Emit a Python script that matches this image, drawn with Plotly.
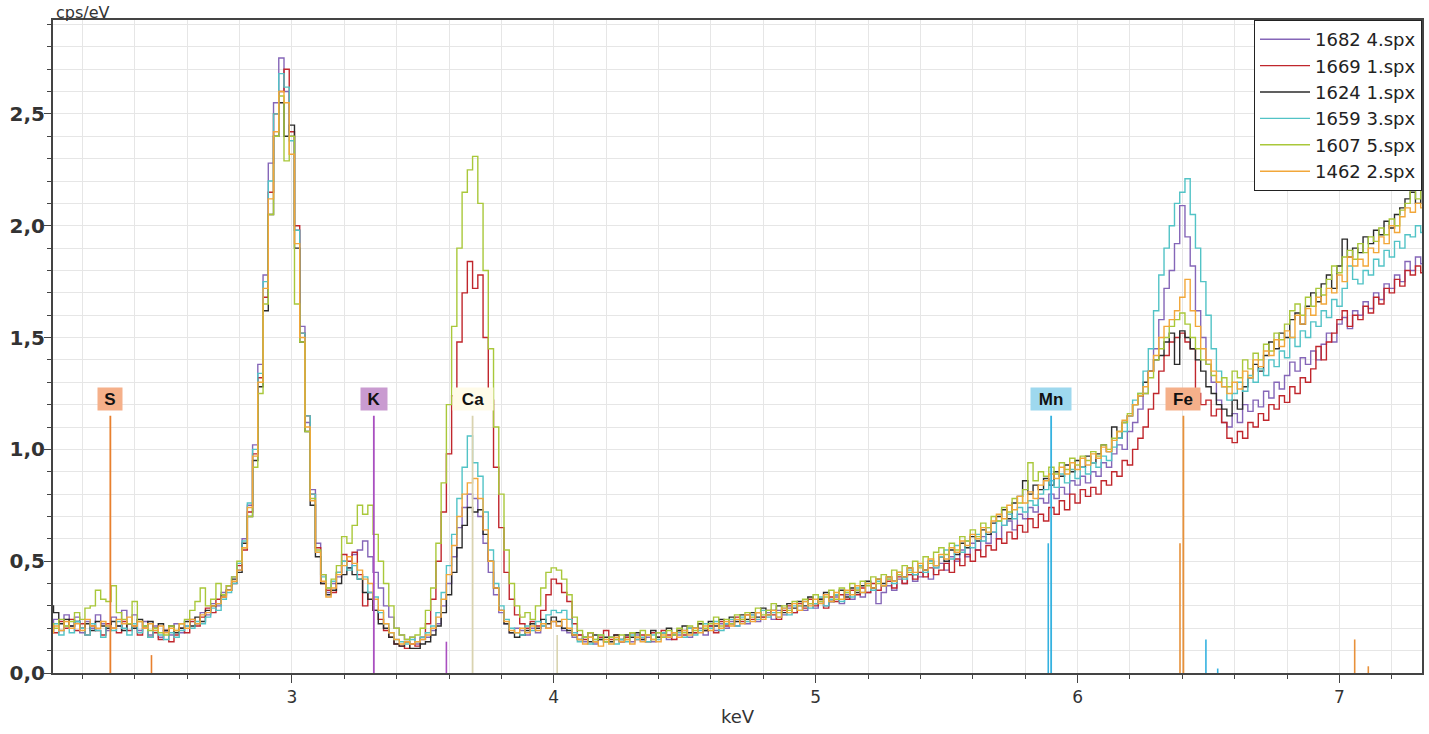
import plotly.graph_objects as go

# Energy channel grid (keV): first channel and channel width
E_START = 2.08
E_STEP = 0.02

series_names = ["1682 4.spx", "1669 1.spx", "1624 1.spx", "1659 3.spx", "1607 5.spx", "1462 2.spx"]
series_colors = ["#8566B8", "#C0262C", "#2B2B2B", "#52C3C6", "#A9C83A", "#F2A73A"]

s1682 = [
    0.20,0.24,0.19,0.26,0.21,0.25,0.18,0.23,0.20,0.26,
    0.22,0.19,0.25,0.21,0.28,0.22,0.26,0.19,0.23,0.17,
    0.21,0.16,0.19,0.17,0.22,0.18,0.21,0.24,0.22,0.27,
    0.26,0.31,0.30,0.36,0.37,0.43,0.46,0.60,0.75,1.02,
    1.38,1.78,2.28,2.55,2.75,2.60,2.40,1.98,1.55,1.12,
    0.82,0.58,0.44,0.36,0.40,0.43,0.50,0.47,0.53,0.55,
    0.59,0.52,0.45,0.38,0.30,0.25,0.20,0.17,0.15,0.16,
    0.13,0.15,0.16,0.19,0.22,0.30,0.40,0.52,0.65,0.74,
    0.80,0.78,0.70,0.58,0.45,0.35,0.27,0.22,0.18,0.20,
    0.19,0.17,0.20,0.18,0.21,0.20,0.23,0.21,0.19,0.18,
    0.16,0.17,0.14,0.16,0.13,0.15,0.14,0.16,0.15,0.14,
    0.16,0.14,0.17,0.15,0.16,0.14,0.18,0.16,0.15,0.18,
    0.17,0.19,0.16,0.18,0.20,0.17,0.21,0.19,0.22,0.20,
    0.23,0.21,0.24,0.22,0.26,0.23,0.25,0.27,0.24,0.28,
    0.26,0.29,0.27,0.30,0.28,0.31,0.29,0.33,0.30,0.32,
    0.34,0.31,0.35,0.33,0.37,0.34,0.36,0.38,0.31,0.36,
    0.39,0.37,0.42,0.40,0.44,0.41,0.43,0.46,0.42,0.47,
    0.49,0.46,0.52,0.50,0.55,0.52,0.58,0.55,0.61,0.58,
    0.63,0.60,0.66,0.68,0.64,0.71,0.69,0.74,0.72,0.78,
    0.76,0.80,0.78,0.83,0.80,0.86,0.84,0.88,0.85,0.90,
    0.88,0.94,0.92,0.98,1.02,1.00,1.08,1.12,1.18,1.25,
    1.35,1.45,1.58,1.72,1.80,1.92,2.09,1.95,1.82,1.62,
    1.50,1.38,1.30,1.22,1.12,1.10,1.16,1.12,1.20,1.17,
    1.22,1.19,1.26,1.23,1.30,1.27,1.33,1.39,1.35,1.41,
    1.38,1.44,1.40,1.47,1.52,1.48,1.56,1.59,1.54,1.62,
    1.60,1.66,1.63,1.70,1.67,1.74,1.72,1.78,1.75,1.84,
    1.80,1.86,1.83,1.88,
]

s1669 = [
    0.21,0.18,0.23,0.20,0.24,0.19,0.22,0.17,0.21,0.19,
    0.17,0.22,0.20,0.18,0.23,0.19,0.21,0.17,0.20,0.16,
    0.18,0.15,0.19,0.14,0.17,0.20,0.18,0.23,0.21,0.25,
    0.29,0.27,0.33,0.34,0.39,0.40,0.48,0.55,0.72,0.98,
    1.32,1.68,2.15,2.50,2.60,2.70,2.42,2.00,1.52,1.15,
    0.80,0.56,0.40,0.37,0.36,0.45,0.53,0.50,0.54,0.44,
    0.30,0.36,0.28,0.24,0.19,0.16,0.13,0.12,0.11,0.13,
    0.12,0.16,0.22,0.33,0.50,0.72,0.98,1.24,1.48,1.70,
    1.84,1.72,1.78,1.50,1.22,0.92,0.65,0.45,0.33,0.26,
    0.22,0.20,0.23,0.21,0.28,0.35,0.42,0.40,0.36,0.32,
    0.22,0.17,0.15,0.18,0.14,0.16,0.19,0.15,0.17,0.14,
    0.16,0.18,0.15,0.17,0.14,0.18,0.16,0.19,0.17,0.15,
    0.19,0.17,0.20,0.18,0.22,0.19,0.21,0.18,0.23,0.21,
    0.22,0.25,0.23,0.26,0.24,0.27,0.25,0.28,0.26,0.24,
    0.28,0.30,0.27,0.31,0.29,0.33,0.30,0.32,0.29,0.34,
    0.32,0.35,0.33,0.37,0.35,0.38,0.36,0.40,0.37,0.39,
    0.41,0.38,0.43,0.40,0.44,0.42,0.45,0.43,0.47,0.44,
    0.46,0.49,0.45,0.51,0.48,0.53,0.50,0.55,0.52,0.57,
    0.55,0.60,0.58,0.63,0.60,0.66,0.63,0.69,0.65,0.71,
    0.68,0.74,0.71,0.77,0.73,0.80,0.76,0.82,0.79,0.83,
    0.80,0.86,0.84,0.90,0.88,0.95,0.93,1.00,1.05,1.10,
    1.18,1.25,1.35,1.42,1.48,1.50,1.52,1.48,1.45,1.25,
    1.20,1.22,1.15,1.18,1.12,1.05,1.03,1.08,1.05,1.12,
    1.10,1.16,1.13,1.20,1.18,1.24,1.21,1.28,1.25,1.32,
    1.30,1.36,1.46,1.40,1.48,1.52,1.58,1.62,1.55,1.60,
    1.58,1.64,1.61,1.68,1.65,1.72,1.70,1.76,1.73,1.80,
    1.78,1.82,1.79,1.84,
]

s1624 = [
    0.30,0.27,0.22,0.24,0.21,0.23,0.20,0.22,0.19,0.23,
    0.21,0.20,0.23,0.21,0.19,0.22,0.20,0.24,0.21,0.23,
    0.20,0.22,0.19,0.21,0.18,0.20,0.23,0.21,0.25,0.23,
    0.28,0.30,0.31,0.35,0.37,0.42,0.45,0.58,0.70,0.95,
    1.28,1.62,2.05,2.40,2.55,2.40,2.45,1.90,1.48,1.08,
    0.75,0.52,0.40,0.35,0.37,0.40,0.44,0.47,0.44,0.42,
    0.36,0.33,0.28,0.22,0.20,0.16,0.13,0.12,0.14,0.11,
    0.11,0.13,0.14,0.17,0.21,0.27,0.35,0.45,0.56,0.66,
    0.74,0.72,0.73,0.62,0.50,0.38,0.28,0.22,0.18,0.16,
    0.17,0.19,0.22,0.20,0.24,0.22,0.25,0.23,0.20,0.19,
    0.17,0.15,0.16,0.14,0.17,0.15,0.16,0.14,0.17,0.15,
    0.17,0.16,0.18,0.15,0.17,0.19,0.16,0.18,0.20,0.17,
    0.19,0.21,0.18,0.20,0.22,0.19,0.23,0.21,0.24,0.22,
    0.25,0.23,0.26,0.24,0.27,0.25,0.29,0.26,0.28,0.30,
    0.27,0.31,0.29,0.32,0.30,0.34,0.31,0.33,0.36,0.32,
    0.35,0.37,0.34,0.38,0.36,0.39,0.41,0.38,0.42,0.40,
    0.43,0.41,0.45,0.43,0.47,0.44,0.48,0.46,0.50,0.48,
    0.52,0.50,0.55,0.53,0.58,0.56,0.61,0.59,0.64,0.62,
    0.67,0.70,0.73,0.69,0.76,0.79,0.86,0.80,0.84,0.82,
    0.87,0.84,0.90,0.88,0.93,0.90,0.95,0.92,0.97,0.94,
    0.98,1.02,0.99,1.10,1.05,1.12,1.15,1.20,1.24,1.30,
    1.35,1.40,1.42,1.48,1.52,1.38,1.53,1.50,1.45,1.40,
    1.35,1.28,1.25,1.20,1.18,1.15,1.22,1.18,1.28,1.32,
    1.38,1.35,1.42,1.48,1.45,1.52,1.50,1.58,1.61,1.56,
    1.64,1.70,1.66,1.74,1.78,1.72,1.82,1.94,1.86,1.90,
    1.88,1.95,1.92,1.98,1.96,2.02,1.99,2.05,2.08,2.12,
    2.15,2.10,2.16,2.14,
]

s1659 = [
    0.19,0.22,0.17,0.21,0.18,0.23,0.20,0.17,0.22,0.19,
    0.16,0.21,0.19,0.23,0.20,0.17,0.22,0.18,0.21,0.16,
    0.19,0.17,0.15,0.18,0.16,0.19,0.21,0.20,0.23,0.22,
    0.25,0.29,0.28,0.33,0.36,0.40,0.49,0.59,0.76,1.00,
    1.34,1.75,2.20,2.50,2.68,2.62,2.38,1.98,1.52,1.15,
    0.80,0.54,0.43,0.38,0.41,0.45,0.50,0.46,0.48,0.42,
    0.43,0.36,0.34,0.27,0.22,0.18,0.15,0.14,0.13,0.15,
    0.14,0.16,0.18,0.21,0.27,0.36,0.48,0.62,0.78,0.92,
    1.06,0.94,0.88,0.72,0.55,0.40,0.30,0.24,0.20,0.18,
    0.17,0.21,0.19,0.23,0.21,0.26,0.28,0.27,0.28,0.24,
    0.18,0.14,0.16,0.13,0.15,0.17,0.14,0.16,0.13,0.15,
    0.14,0.17,0.15,0.16,0.14,0.17,0.15,0.18,0.16,0.17,
    0.18,0.16,0.20,0.17,0.19,0.22,0.20,0.23,0.19,0.22,
    0.24,0.21,0.25,0.23,0.26,0.24,0.28,0.25,0.27,0.25,
    0.29,0.26,0.30,0.28,0.32,0.29,0.31,0.34,0.30,0.33,
    0.35,0.32,0.36,0.34,0.38,0.36,0.40,0.37,0.41,0.39,
    0.42,0.40,0.44,0.42,0.46,0.44,0.48,0.45,0.50,0.47,
    0.52,0.55,0.51,0.57,0.54,0.59,0.56,0.62,0.59,0.65,
    0.63,0.68,0.66,0.71,0.69,0.74,0.72,0.77,0.75,0.80,
    0.82,0.86,0.83,0.89,0.85,0.91,0.87,0.92,0.89,0.94,
    0.92,0.97,0.95,1.01,1.05,1.08,1.15,1.22,1.25,1.35,
    1.45,1.62,1.78,1.90,2.00,2.10,2.15,2.21,2.05,1.90,
    1.75,1.60,1.45,1.35,1.28,1.22,1.25,1.30,1.26,1.33,
    1.30,1.36,1.33,1.40,1.37,1.44,1.41,1.50,1.46,1.53,
    1.50,1.57,1.55,1.62,1.59,1.67,1.64,1.72,1.82,1.76,
    1.74,1.80,1.78,1.85,1.82,1.89,1.86,1.93,1.90,1.96,
    1.95,2.00,1.97,2.03,
]

s1607 = [
    0.22,0.20,0.24,0.21,0.23,0.27,0.24,0.29,0.30,0.37,
    0.33,0.32,0.39,0.27,0.24,0.22,0.32,0.23,0.21,0.19,
    0.20,0.18,0.17,0.21,0.19,0.22,0.24,0.28,0.32,0.38,
    0.30,0.33,0.40,0.35,0.39,0.43,0.50,0.56,0.70,0.92,
    1.25,1.65,2.05,2.40,2.58,2.29,2.40,1.65,1.48,1.08,
    0.78,0.55,0.44,0.38,0.42,0.48,0.61,0.58,0.66,0.75,
    0.71,0.75,0.62,0.50,0.40,0.30,0.20,0.17,0.15,0.16,
    0.17,0.20,0.28,0.38,0.58,0.85,1.20,1.55,1.90,2.15,
    2.25,2.31,2.10,1.80,1.45,1.10,0.80,0.55,0.40,0.30,
    0.25,0.27,0.24,0.30,0.38,0.45,0.47,0.46,0.42,0.35,
    0.25,0.19,0.16,0.18,0.15,0.17,0.14,0.16,0.15,0.17,
    0.15,0.18,0.16,0.19,0.17,0.15,0.18,0.16,0.19,0.17,
    0.20,0.18,0.21,0.19,0.23,0.20,0.22,0.25,0.21,0.24,
    0.22,0.26,0.24,0.27,0.25,0.29,0.26,0.28,0.31,0.27,
    0.30,0.28,0.32,0.30,0.33,0.31,0.35,0.32,0.34,0.37,
    0.33,0.38,0.36,0.40,0.37,0.41,0.39,0.43,0.40,0.44,
    0.42,0.46,0.44,0.48,0.45,0.50,0.47,0.52,0.49,0.54,
    0.56,0.53,0.58,0.55,0.61,0.59,0.64,0.61,0.67,0.65,
    0.70,0.68,0.74,0.72,0.78,0.76,0.82,0.94,0.86,0.90,
    0.88,0.92,0.89,0.94,0.91,0.96,0.93,0.97,0.95,0.99,
    0.97,1.02,1.00,1.05,1.08,1.12,1.16,1.20,1.25,1.25,
    1.32,1.40,1.45,1.50,1.55,1.58,1.61,1.56,1.50,1.45,
    1.40,1.38,1.33,1.30,1.32,1.28,1.35,1.32,1.40,1.36,
    1.43,1.40,1.47,1.44,1.52,1.49,1.56,1.62,1.65,1.60,
    1.68,1.64,1.72,1.69,1.76,1.82,1.79,1.86,1.89,1.85,
    1.92,1.88,1.95,1.93,1.99,1.96,2.03,2.00,2.07,2.10,
    2.16,2.12,2.17,2.14,
]

s1462 = [
    0.18,0.21,0.19,0.23,0.20,0.22,0.19,0.24,0.21,0.20,
    0.23,0.21,0.20,0.24,0.22,0.25,0.21,0.23,0.20,0.22,
    0.19,0.21,0.18,0.20,0.19,0.22,0.20,0.24,0.22,0.26,
    0.27,0.30,0.31,0.34,0.37,0.41,0.46,0.56,0.74,0.97,
    1.30,1.72,2.12,2.42,2.60,2.55,2.32,1.92,1.50,1.10,
    0.77,0.54,0.41,0.34,0.38,0.44,0.48,0.52,0.49,0.46,
    0.42,0.40,0.33,0.28,0.22,0.18,0.15,0.13,0.14,0.13,
    0.14,0.15,0.17,0.20,0.25,0.33,0.44,0.57,0.70,0.80,
    0.85,0.87,0.78,0.64,0.50,0.38,0.28,0.23,0.19,0.18,
    0.20,0.18,0.21,0.19,0.22,0.20,0.23,0.21,0.24,0.20,
    0.17,0.15,0.13,0.16,0.14,0.12,0.15,0.13,0.16,0.14,
    0.15,0.13,0.16,0.14,0.17,0.15,0.14,0.17,0.16,0.18,
    0.16,0.19,0.17,0.20,0.18,0.21,0.19,0.22,0.20,0.23,
    0.21,0.24,0.22,0.26,0.23,0.27,0.24,0.26,0.28,0.25,
    0.29,0.27,0.31,0.28,0.32,0.30,0.33,0.31,0.35,0.32,
    0.36,0.33,0.37,0.35,0.39,0.36,0.40,0.38,0.42,0.39,
    0.43,0.41,0.45,0.43,0.47,0.45,0.49,0.46,0.51,0.48,
    0.53,0.51,0.56,0.54,0.59,0.57,0.62,0.60,0.65,0.63,
    0.68,0.71,0.69,0.75,0.73,0.79,0.76,0.81,0.78,0.84,
    0.86,0.89,0.87,0.92,0.89,0.94,0.91,0.96,0.93,0.98,
    0.96,1.01,0.99,1.04,1.08,1.13,1.15,1.20,1.24,1.28,
    1.35,1.42,1.50,1.55,1.58,1.62,1.68,1.76,1.62,1.55,
    1.45,1.40,1.35,1.30,1.28,1.25,1.30,1.27,1.35,1.32,
    1.40,1.37,1.44,1.42,1.49,1.46,1.53,1.50,1.60,1.56,
    1.63,1.60,1.68,1.65,1.72,1.70,1.78,1.75,1.86,1.82,
    1.85,1.82,1.90,1.88,1.95,1.92,2.00,1.97,2.04,2.08,
    2.06,2.10,2.08,2.12,
]

all_series = [s1682, s1669, s1624, s1659, s1607, s1462]

# Element markers (labelled lines)
element_labels = ["S", "K", "Ca", "Mn", "Fe"]
element_energy = [2.307, 3.313, 3.690, 5.899, 6.404]
element_height = [1.15, 1.15, 1.15, 1.15, 1.15]
element_line_color = ["#E8802E", "#A94FC0", "#D9D3B0", "#35B2E0", "#E8913A"]
element_box_color = ["#F5B08A", "#C99BD0", "#FFFBE8", "#9ED8EE", "#F5B08A"]
element_box_width = [24, 26, 40, 40, 34]
label_level = 1.225

# Secondary (unlabelled) emission lines
minor_energy = [2.464, 3.590, 4.013, 5.888, 6.490, 6.535, 6.391, 7.058, 7.110]
minor_height = [0.08, 0.14, 0.17, 0.58, 0.15, 0.02, 0.58, 0.15, 0.03]
minor_color = ["#E8802E", "#A94FC0", "#D9D3B0", "#35B2E0", "#35B2E0", "#35B2E0",
               "#E8913A", "#E8913A", "#E8913A"]

fig = go.Figure()

for name, color, vals in zip(series_names, series_colors, all_series):
    energies = [round(E_START + E_STEP * i, 4) for i in range(len(vals))]
    fig.add_trace(go.Scatter(
        x=energies, y=vals, name=name, mode="lines",
        line=dict(color=color, width=1.4, shape="hvh"),
    ))

for e, h, c in zip(minor_energy, minor_height, minor_color):
    fig.add_trace(go.Scatter(x=[e, e], y=[0, h], mode="lines", showlegend=False,
                             line=dict(color=c, width=1.6), hoverinfo="skip"))

for lab, e, h, c, bc, bw in zip(element_labels, element_energy, element_height,
                                element_line_color, element_box_color, element_box_width):
    fig.add_trace(go.Scatter(x=[e, e], y=[0, h], mode="lines", showlegend=False,
                             line=dict(color=c, width=1.8), hoverinfo="skip"))
    fig.add_annotation(x=e, y=label_level, text="<b>%s</b>" % lab, showarrow=False,
                       xanchor="center", yanchor="middle", width=bw, height=22,
                       align="center", valign="middle",
                       font=dict(family="Liberation Sans, Arial", size=17, color="#111111"),
                       bgcolor=bc, borderpad=0)

fig.add_annotation(xref="paper", yref="paper", x=0.0, y=1.0, xanchor="left", yanchor="bottom",
                   text="cps/eV", showarrow=False, yshift=-4, xshift=1,
                   font=dict(family="DejaVu Sans", size=16, color="#333333"))

grid_c = "#E6E6E6"
fig.update_layout(
    width=1429, height=734,
    margin=dict(l=53, r=7, t=20, b=61, autoexpand=False),
    paper_bgcolor="white", plot_bgcolor="white",
    separators=",.",
    showlegend=True,
    legend=dict(x=1, y=1, xanchor="right", yanchor="top",
                bgcolor="white", bordercolor="#222222", borderwidth=1,
                font=dict(family="DejaVu Sans", size=18, color="#222222"),
                itemwidth=50, tracegroupgap=0),
    xaxis=dict(
        automargin=False,
        range=[2.088, 7.315], dtick=1, tick0=0, showgrid=True, gridcolor=grid_c,
        ticks="outside", ticklen=8, tickcolor="#444444", tickwidth=1,
        showline=True, linecolor="#444444", linewidth=2, mirror=True,
        zeroline=False,
        tickfont=dict(family="DejaVu Sans", size=17, color="#333333"),
        title=dict(text="keV", font=dict(family="DejaVu Sans", size=18, color="#333333"),
                   standoff=4),
        minor=dict(dtick=0.2, tick0=0, showgrid=True, gridcolor=grid_c,
                   ticks="outside", ticklen=4, tickcolor="#444444"),
    ),
    yaxis=dict(
        automargin=False,
        range=[0, 2.92], dtick=0.5, tick0=0, showgrid=True, gridcolor=grid_c,
        tickformat=".1f",
        ticks="outside", ticklen=7, tickcolor="#444444", tickwidth=1,
        ticklabelstandoff=-5,
        showline=True, linecolor="#444444", linewidth=2, mirror=True,
        zeroline=False,
        tickfont=dict(family="DejaVu Sans", size=20, color="#333333", weight="bold"),
        minor=dict(dtick=0.1, tick0=0, showgrid=True, gridcolor=grid_c,
                   ticks="outside", ticklen=4, tickcolor="#444444"),
    ),
)

# Remove the default 8px page margin so the 1429x734 figure fills the window exactly.
fig.write_html("out.html", config={"displayModeBar": False},
               post_script="document.body.style.margin='0';")
